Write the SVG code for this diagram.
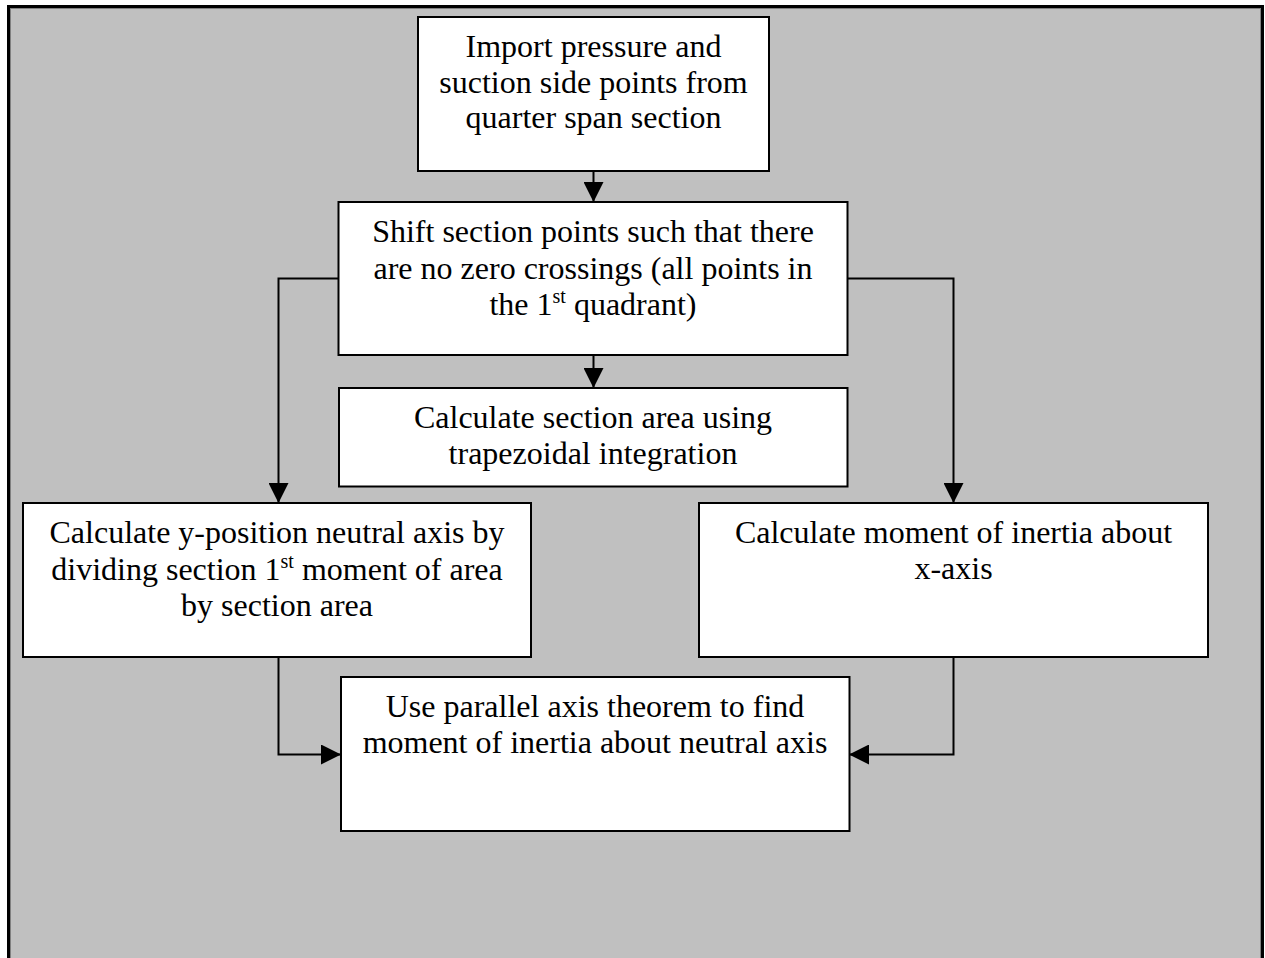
<svg xmlns="http://www.w3.org/2000/svg" width="1265" height="958" viewBox="0 0 1265 958">
<defs>
<style>
.box{fill:#fff;stroke:#000;stroke-width:2}
.t{font-family:"Liberation Serif","Times New Roman",serif;font-size:32px;fill:#000;text-anchor:middle}
.sup{font-size:20px}
.c{fill:none;stroke:#000;stroke-width:2}
</style>
<marker id="ah" markerUnits="userSpaceOnUse" markerWidth="20" markerHeight="20" refX="20" refY="10" orient="auto">
<path d="M0,0 L20,10 L0,20 z" fill="#000"/>
</marker>
</defs>
<rect x="0" y="0" width="1265" height="958" fill="#fff"/>
<rect x="8.5" y="6.5" width="1254" height="1000" fill="#c0c0c0" stroke="#000" stroke-width="3"/>
<rect x="10.5" y="8.5" width="1250" height="1000" fill="none" stroke="#808080" stroke-width="1"/>

<g id="connectors">
<path class="c" d="M593.5,171 V202" marker-end="url(#ah)"/>
<path class="c" d="M593.5,355 V388" marker-end="url(#ah)"/>
<path class="c" d="M338,278.5 H278.5 V503" marker-end="url(#ah)"/>
<path class="c" d="M848,278.5 H953.5 V503" marker-end="url(#ah)"/>
<path class="c" d="M278.5,657 V754.5 H341" marker-end="url(#ah)"/>
<path class="c" d="M953.5,657 V754.5 H849" marker-end="url(#ah)"/>
</g>

<g id="n1">
<rect class="box" x="418" y="17" width="351" height="154"/>
<text class="t" x="593.5" y="57">Import pressure and</text>
<text class="t" x="593.5" y="93">suction side points from</text>
<text class="t" x="593.5" y="128">quarter span section</text>
</g>

<g id="n2">
<rect class="box" x="338.5" y="202" width="509" height="153"/>
<text class="t" x="593" y="242">Shift section points such that there</text>
<text class="t" x="593" y="278.5">are no zero crossings (all points in</text>
<text class="t" x="593" y="315">the 1<tspan class="sup" dy="-12">st</tspan><tspan dy="12"> quadrant)</tspan></text>
</g>

<g id="n3">
<rect class="box" x="339" y="388" width="508.5" height="98.5"/>
<text class="t" x="593" y="428">Calculate section area using</text>
<text class="t" x="593" y="463.5">trapezoidal integration</text>
</g>

<g id="n4">
<rect class="box" x="23" y="503" width="508" height="154"/>
<text class="t" x="277" y="543">Calculate y-position neutral axis by</text>
<text class="t" x="277" y="580">dividing section 1<tspan class="sup" dy="-12">st</tspan><tspan dy="12"> moment of area</tspan></text>
<text class="t" x="277" y="616">by section area</text>
</g>

<g id="n5">
<rect class="box" x="699" y="503" width="509" height="154"/>
<text class="t" x="953.5" y="543">Calculate moment of inertia about</text>
<text class="t" x="953.5" y="578.5">x-axis</text>
</g>

<g id="n6">
<rect class="box" x="341" y="677" width="508.5" height="154"/>
<text class="t" x="595" y="717">Use parallel axis theorem to find</text>
<text class="t" x="595" y="753">moment of inertia about neutral axis</text>
</g>
</svg>
